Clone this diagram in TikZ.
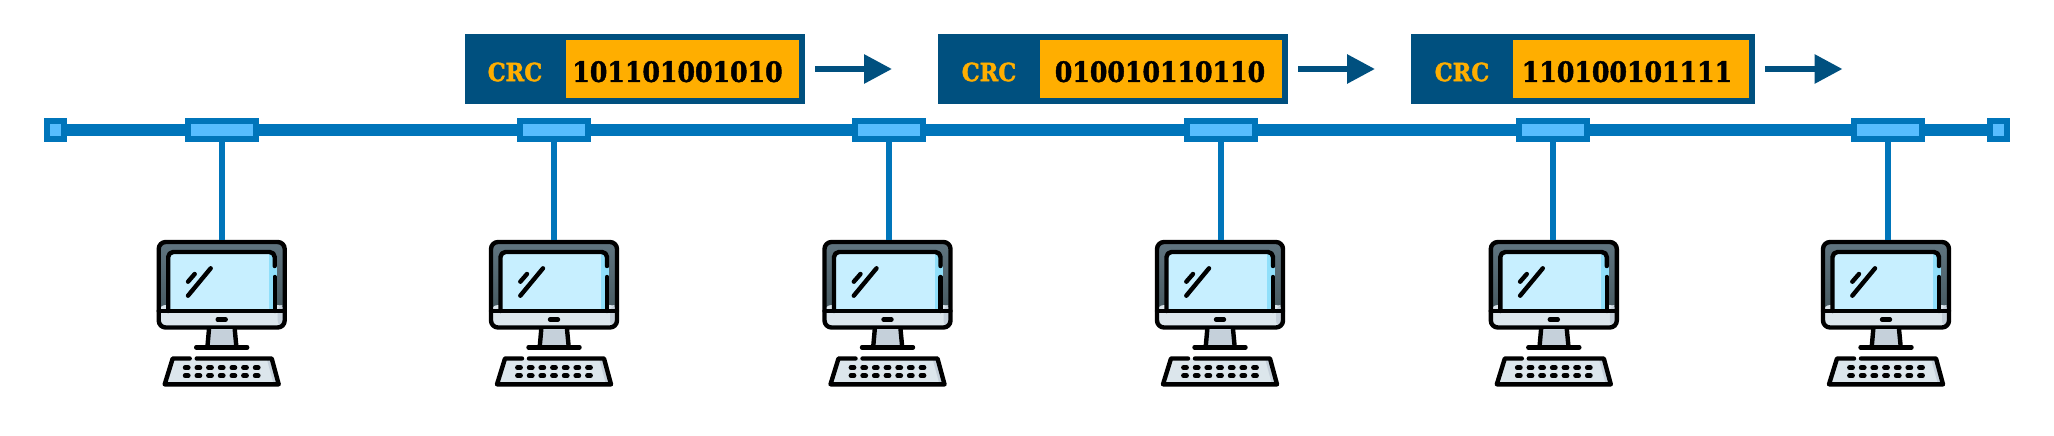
\documentclass[tikz,border=0pt]{standalone}
\usepackage{fontspec}
\usetikzlibrary{arrows.meta}
\newfontfamily\crcfont{DejaVu Serif Condensed Bold}[FakeBold=1.6]
\definecolor{busblue}{HTML}{0075BA}
\definecolor{tapblue}{HTML}{57BDFF}
\definecolor{pktblue}{HTML}{00507F}
\definecolor{pktorange}{HTML}{FFAE00}
\definecolor{screenblue}{HTML}{C7EFFF}
\definecolor{stripeblue}{HTML}{90DFFA}
\definecolor{casetop}{HTML}{607580}
\definecolor{casebottom}{HTML}{45585F}
\definecolor{chingray}{HTML}{DCE6EC}
\definecolor{standgray}{HTML}{C5D0DA}
\tikzset{
  bus/.style={line width=12pt,busblue},
  stem/.style={line width=6pt,busblue},
  tap/.style={draw=busblue,fill=tapblue,line width=6pt,inner sep=0pt,minimum width=68pt,minimum height=18pt},
  endcap/.style={tap,minimum width=17pt},
  pktbox/.style={fill=pktblue,inner sep=0pt,minimum height=70pt},
  databox/.style={fill=pktorange,inner sep=0pt,minimum height=58pt},
  bits/.style={inner sep=0pt,font=\crcfont\fontsize{28}{28}\selectfont},
  crclabel/.style={pktorange,inner sep=0pt,font=\crcfont\fontsize{25}{25}\selectfont},
  flow/.style={line width=6pt,pktblue,-{Triangle[length=28pt,width=28pt]}},
  icon/.style={line width=4.4pt,black,line join=round,line cap=round},
  computer/.pic={
    \coordinate (-top) at (0,0);
    % Monitor
    \shade[top color=casetop,bottom color=casebottom,rounded corners=7pt] (-63,2) rectangle (63,75);
    \fill[chingray,rounded corners=7pt] (-63,65) rectangle (63,87.5);
    \fill[chingray] (-63,71) rectangle (63,78);
    \fill[standgray,rounded corners=7pt] (56,65) rectangle (63,87.5);
    \fill[screenblue] (-53.5,14) rectangle (53,71);
    \fill[stripeblue] (47,14) rectangle (53,71);
    \fill[stripeblue] (53,26) rectangle (55,36);
    \draw[icon,rounded corners=5pt] (-53.5,71) -- (-53.5,12) -- (53,12) -- (53,26);
    \draw[icon] (53,37) -- (53,71);
    \draw[icon,rounded corners=7pt] (-63,71) -- (-63,2) -- (63,2) -- (63,87.5) -- (-63,87.5) -- cycle;
    \draw[icon] (-63,71) -- (63,71);
    \draw[icon] (-4,79.5) -- (4,79.5);
    % Glare
    \draw[icon] (-33.7,55.7) -- (-11,28.3);
    \draw[icon] (-33.7,41.7) -- (-27,34);
    % Stand
    \fill[standgray] (-12.7,89) -- (-14.3,107) -- (14.7,107) -- (13,89) -- cycle;
    \draw[icon] (-12.7,89) -- (-14.3,107);
    \draw[icon] (13,89) -- (14.7,107);
    \draw[icon] (-25.5,107.3) -- (25.5,107.3);
    % Keyboard
    \fill[chingray] (-49,118.5) -- (50,118.5) -- (57,144.3) -- (-57,144.3) -- cycle;
    \fill[standgray] (45,118.5) -- (50,118.5) -- (57,144.3) -- (52,144.3) -- cycle;
    \draw[icon] (-32,118.5) -- (-49,118.5) -- (-57,144.3) -- (57,144.3) -- (50,118.5) -- (-25,118.5);
    \foreach \keyx in {-35,-23.3,-11.7,0,11.7,23.3,35} {
      \draw[icon,line width=4.8pt] (\keyx-1.5,127.7) -- (\keyx+1.5,127.7);
      \draw[icon,line width=4.8pt] (\keyx-1.5,135.7) -- (\keyx+1.5,135.7);
    }
  }
}
\begin{document}
\begin{tikzpicture}[x=1pt,y=-1pt]
\useasboundingbox (0,0) rectangle (2054,436);

% Taps and end caps
\node[endcap] (capL) at (55.5,130) {};
\node[tap] (tap1) at (222,130) {};
\node[tap] (tap2) at (554,130) {};
\node[tap] (tap3) at (889,130) {};
\node[tap] (tap4) at (1221,130) {};
\node[tap] (tap5) at (1553,130) {};
\node[tap] (tap6) at (1888,130) {};
\node[endcap] (capR) at (1998.5,130) {};

% Bus
\draw[bus] (capL) -- (tap1);
\draw[bus] (tap1) -- (tap2);
\draw[bus] (tap2) -- (tap3);
\draw[bus] (tap3) -- (tap4);
\draw[bus] (tap4) -- (tap5);
\draw[bus] (tap5) -- (tap6);
\draw[bus] (tap6) -- (capR);

% Computers
\pic (pc1) at (221.7,240) {computer};
\pic (pc2) at (554,240) {computer};
\pic (pc3) at (887.5,240) {computer};
\pic (pc4) at (1220,240) {computer};
\pic (pc5) at (1553.8,240) {computer};
\pic (pc6) at (1886,240) {computer};

% Stems
\draw[stem] (tap1) -- (tap1 |- pc1-top);
\draw[stem] (tap2) -- (tap2 |- pc2-top);
\draw[stem] (tap3) -- (tap3 |- pc3-top);
\draw[stem] (tap4) -- (tap4 |- pc4-top);
\draw[stem] (tap5) -- (tap5 |- pc5-top);
\draw[stem] (tap6) -- (tap6 |- pc6-top);

% Frames
\node[pktbox,minimum width=340pt] (pkt1) at (635,69) {};
\node[databox,minimum width=233pt] (data1) at (682.5,69) {};
\node[bits] (bits1) at (677.5,71.7) {101101001010};
\node[crclabel] (crc1) at (515,72) {CRC};
\coordinate (flow1a) at (815,69);
\coordinate (flow1b) at (892,69);
\draw[flow] (flow1a) -- (flow1b);

\node[pktbox,minimum width=350pt] (pkt2) at (1113,69) {};
\node[databox,minimum width=242pt] (data2) at (1161,69) {};
\node[bits] (bits2) at (1160,71.7) {010010110110};
\node[crclabel] (crc2) at (989,72) {CRC};
\coordinate (flow2a) at (1298,69);
\coordinate (flow2b) at (1375,69);
\draw[flow] (flow2a) -- (flow2b);

\node[pktbox,minimum width=344pt] (pkt3) at (1583,69) {};
\node[databox,minimum width=236pt] (data3) at (1631,69) {};
\node[bits] (bits3) at (1627,71.7) {110100101111};
\node[crclabel] (crc3) at (1462,72) {CRC};
\coordinate (flow3a) at (1765,69);
\coordinate (flow3b) at (1842.5,69);
\draw[flow] (flow3a) -- (flow3b);
\end{tikzpicture}
\end{document}
